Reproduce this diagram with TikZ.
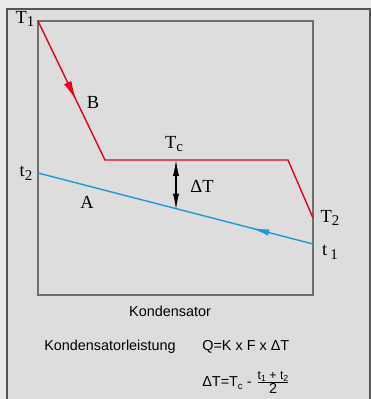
\documentclass[tikz,border=0pt]{standalone}
\usepackage{fontspec}
\setmainfont{Liberation Serif}
\setsansfont{Liberation Sans}
\usepackage{tikz}
\usetikzlibrary{positioning,arrows.meta,decorations.markings}

\definecolor{pagebg}{HTML}{E9EBEA}
\definecolor{panelbg}{HTML}{DCDDDC}
\definecolor{framegray}{HTML}{555555}
\definecolor{boxgray}{HTML}{6E6E6E}
\definecolor{hotred}{HTML}{E3001B}
\definecolor{coldblue}{HTML}{1B9AD6}

\newcommand{\idx}[1]{\raisebox{-0.45ex}{\fontsize{8.5}{9}\selectfont #1}}

\begin{document}
\begin{tikzpicture}[
    x=0.02cm, y=-0.02cm,
    lab/.style={font=\fontsize{10.5}{12}\selectfont, inner sep=0pt},
    txt/.style={font=\sffamily\fontsize{8.2}{10}\selectfont, inner sep=0pt},
    curve/.style={line width=0.8pt, line join=miter},
    midarrow/.style 2 args={postaction={decorate}, decoration={markings,
        mark=at position #1 with {\arrow{Latex[length=11pt,width=#2]}}}},
    dtarrow/.style={{Latex[length=9pt,width=3.5pt]}-{Latex[length=9pt,width=3.5pt]}, line width=0.6pt},
]
% background and frames
\useasboundingbox (0,0) rectangle (371,399);
\fill[pagebg] (0,0) rectangle (371,399);
\fill[panelbg] (7,9) rectangle (370,399);
\draw[framegray, line width=0.9pt] (7,399) -- (7,9) -- (370,9) -- (370,399);
\draw[boxgray, line width=1.1pt] (38,21) rectangle (313,295);

% key points of the two curves
\coordinate (T1pt) at (38,21);
\coordinate (kneeL) at (105,160);
\coordinate (kneeR) at (288,160);
\coordinate (T2pt) at (313,218);
\coordinate (t2pt) at (38,173);
\coordinate (t1pt) at (313,244);
\coordinate (dtTop) at (176,160);
\coordinate (dtBot) at (176,209.5);

% refrigerant (B) and cooling medium (A)
\draw[hotred, curve, midarrow={50pt}{4.6pt}] (T1pt) -- (kneeL) -- (kneeR) -- (T2pt);
\draw[coldblue, curve, midarrow={37pt}{3.6pt}] (t1pt) -- (t2pt);
\draw[dtarrow] (dtTop) -- (dtBot);

% labels
\node[lab] (T1) at (25,19) {T\idx{1}};
\node[lab] (B) at (93,102) {B};
\node[lab] (Tc) at (174,144) {T\idx{c}};
\node[lab] (dT) at (202,186) {ΔT};
\node[lab] (t2) at (26,173) {t\idx{2}};
\node[lab] (A) at (87,202) {A};
\node[lab] (T2) at (330,218) {T\idx{2}};
\node[lab] (t1) at (330,252) {t\,\idx{1}};

% captions and formulas
\node[txt] (cap) at (170,311) {Kondensator};
\node[txt, anchor=base] (power) at (110,350) {Kondensatorleistung};
\node[txt, anchor=base west] (qform) at (202,350) {Q=K x F x ΔT};
\node[txt, anchor=base west] (dtform) at (202,386)
    {ΔT=T\raisebox{-0.5ex}{\fontsize{5.5}{6}\selectfont c} -
     $\frac{\hbox{\sffamily\fontsize{7}{8}\selectfont t\raisebox{-0.3ex}{\fontsize{5}{6}\selectfont 1} + t\raisebox{-0.3ex}{\fontsize{5}{6}\selectfont 2}}}{\hbox{\sffamily\fontsize{8.2}{10}\selectfont 2}}$};
\end{tikzpicture}
\end{document}
